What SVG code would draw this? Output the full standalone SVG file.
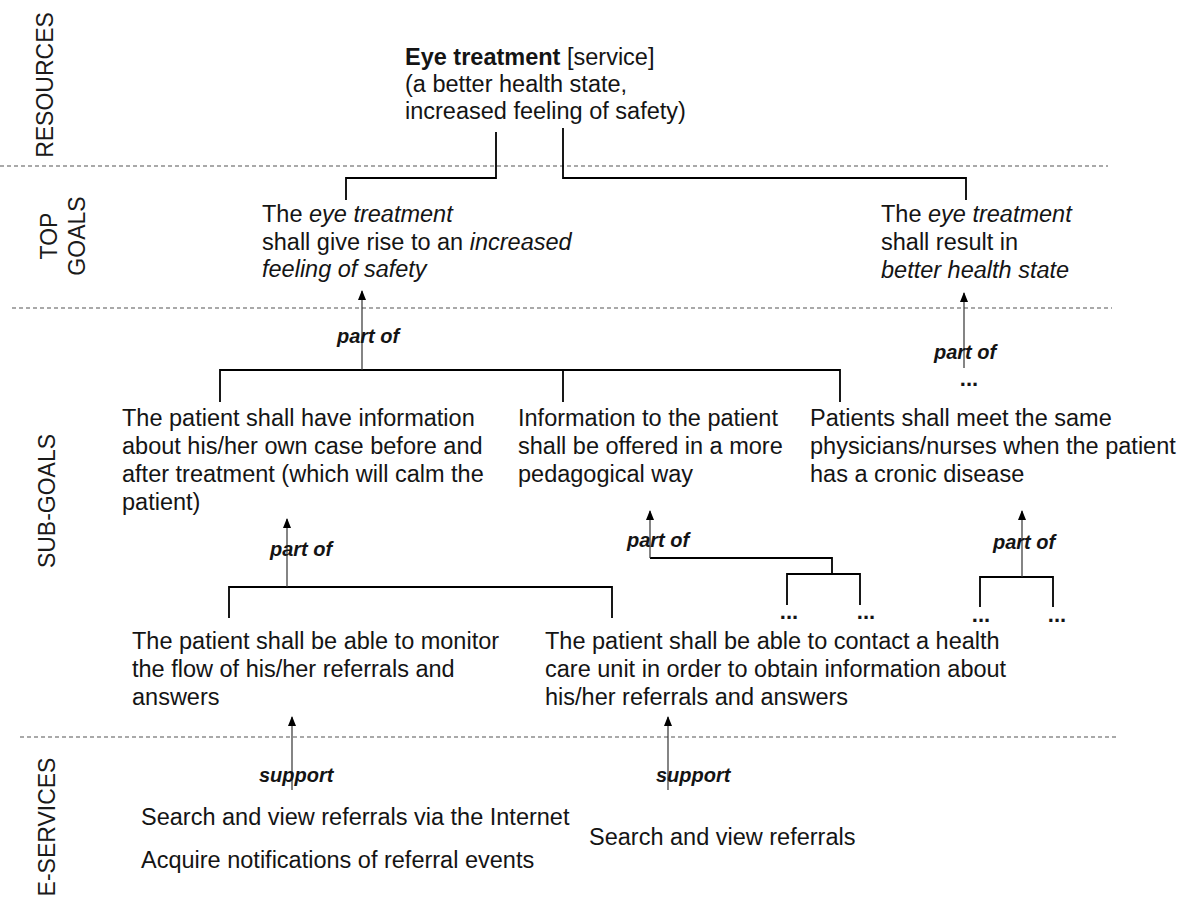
<svg xmlns="http://www.w3.org/2000/svg" width="1181" height="902" viewBox="0 0 1181 902">
  <style>
    text { font-family: "Liberation Sans", Arial, Helvetica, sans-serif; fill: #141414; }
    .t { font-size: 23.5px; }
    .lane { font-size: 23px; text-anchor: middle; fill: #1a1a1a; }
    .rel { font-size: 20px; font-weight: bold; font-style: italic; }
    .dots { font-size: 22px; font-weight: bold; text-anchor: middle; }
    .sep { stroke: #555; stroke-width: 1.2; stroke-dasharray: 4 3; fill: none; }
    .brk { stroke: #000; stroke-width: 1.8; fill: none; }
    .arr { stroke: #333; stroke-width: 1.2; fill: none; marker-end: url(#head); }
  </style>
  <defs>
    <marker id="head" markerUnits="userSpaceOnUse" markerWidth="10" markerHeight="8" refX="9" refY="4" orient="auto">
      <path d="M0,0 L10,4 L0,8 Z" fill="#000"/>
    </marker>
  </defs>

  <rect width="1181" height="902" fill="#fff"/>

  <!-- lane separators and lane titles -->
  <g id="lanes">
    <path class="sep" d="M0,166 H1108"/>
    <path class="sep" d="M12,308 H1112"/>
    <path class="sep" d="M20,737 H1118"/>
    <text class="lane" transform="translate(53,85) rotate(-90)">RESOURCES</text>
    <text class="lane" transform="translate(57,236) rotate(-90)">TOP</text>
    <text class="lane" transform="translate(85,236) rotate(-90)">GOALS</text>
    <text class="lane" transform="translate(55,501) rotate(-90)">SUB-GOALS</text>
    <text class="lane" transform="translate(55,827) rotate(-90)">E-SERVICES</text>
  </g>

  <!-- connectors: brackets, relation arrows and their labels -->
  <g id="connectors">
    <path class="brk" d="M496,132 V178 H346 V200"/>
    <path class="brk" d="M563,128 V178 H966 V200"/>
    <path class="brk" d="M220,402 V370 H840 V402 M563,370 V402"/>
    <path class="brk" d="M229,618 V587 H612 V618"/>
    <path class="brk" d="M650,558 H832 V574 M787,605 V574 H860 V605"/>
    <path class="brk" d="M980,607 V577 H1053 V607"/>
    <path class="arr" d="M362,370 V291"/>
    <path class="arr" d="M964,368 V293"/>
    <path class="arr" d="M287,587 V519"/>
    <path class="arr" d="M650,558 V511"/>
    <path class="arr" d="M1022,577 V511"/>
    <path class="arr" d="M292,790 V717"/>
    <path class="arr" d="M668,790 V717"/>
    <text class="rel" x="337" y="343">part of</text>
    <text class="rel" x="934" y="359">part of</text>
    <text class="rel" x="270" y="556">part of</text>
    <text class="rel" x="627" y="547">part of</text>
    <text class="rel" x="993" y="549">part of</text>
    <text class="rel" x="259" y="782">support</text>
    <text class="rel" x="656" y="782">support</text>
    <text class="dots" x="969" y="386">...</text>
    <text class="dots" x="789" y="619">...</text>
    <text class="dots" x="866" y="619">...</text>
    <text class="dots" x="981" y="622">...</text>
    <text class="dots" x="1057" y="622">...</text>
  </g>

  <!-- resource -->
  <g id="resource">
    <text class="t" x="405" y="65"><tspan font-weight="bold">Eye treatment</tspan> [service]</text>
    <text class="t" x="405" y="92">(a better health state,</text>
    <text class="t" x="405" y="119">increased feeling of safety)</text>
  </g>

  <!-- top goals -->
  <g id="goal-safety">
    <text class="t" x="262" y="222">The <tspan font-style="italic">eye treatment</tspan></text>
    <text class="t" x="262" y="250">shall give rise to an <tspan font-style="italic">increased</tspan></text>
    <text class="t" x="262" y="277" font-style="italic">feeling of safety</text>
  </g>
  <g id="goal-health">
    <text class="t" x="881" y="222">The <tspan font-style="italic">eye treatment</tspan></text>
    <text class="t" x="881" y="250">shall result in</text>
    <text class="t" x="881" y="278" font-style="italic">better health state</text>
  </g>

  <!-- sub-goals -->
  <g id="sub-information">
    <text class="t" x="122" y="426">The patient shall have information</text>
    <text class="t" x="122" y="454">about his/her own case before and</text>
    <text class="t" x="122" y="482">after treatment (which will calm the</text>
    <text class="t" x="122" y="510">patient)</text>
  </g>
  <g id="sub-pedagogical">
    <text class="t" x="518" y="426">Information to the patient</text>
    <text class="t" x="518" y="454">shall be offered in a more</text>
    <text class="t" x="518" y="482">pedagogical way</text>
  </g>
  <g id="sub-same-staff">
    <text class="t" x="810" y="426">Patients shall meet the same</text>
    <text class="t" x="810" y="454">physicians/nurses when the patient</text>
    <text class="t" x="810" y="482">has a cronic disease</text>
  </g>
  <g id="sub-monitor">
    <text class="t" x="132" y="649">The patient shall be able to monitor</text>
    <text class="t" x="132" y="677">the flow of his/her referrals and</text>
    <text class="t" x="132" y="705">answers</text>
  </g>
  <g id="sub-contact">
    <text class="t" x="545" y="649">The patient shall be able to contact a health</text>
    <text class="t" x="545" y="677">care unit in order to obtain information about</text>
    <text class="t" x="545" y="705">his/her referrals and answers</text>
  </g>

  <!-- e-services -->
  <g id="eservice-internet">
    <text class="t" x="141" y="825">Search and view referrals via the Internet</text>
    <text class="t" x="141" y="868">Acquire notifications of referral events</text>
  </g>
  <g id="eservice-search">
    <text class="t" x="589" y="845">Search and view referrals</text>
  </g>
</svg>
